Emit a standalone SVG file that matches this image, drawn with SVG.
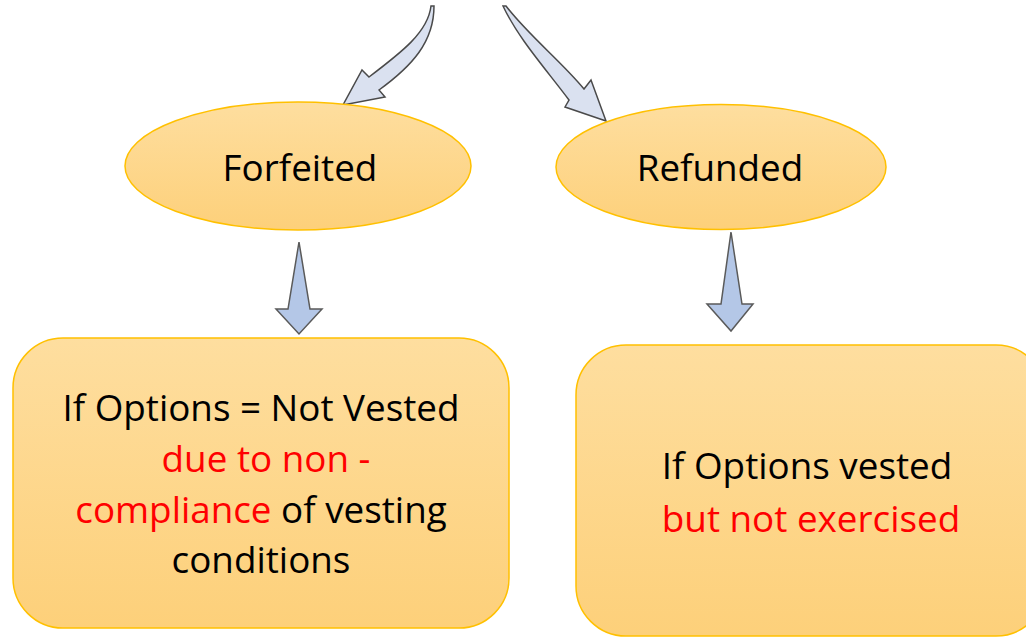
<svg xmlns="http://www.w3.org/2000/svg" width="1026" height="637" viewBox="0 0 1026 637">
<style>
.node-shape{fill:url(#gold);stroke:#FFC000;stroke-width:1.5}
.arrow-top{fill:#DAE1F0;stroke:#4A4A4A;stroke-width:1.5;stroke-linejoin:miter}
.arrow-down{fill:#B4C7E7;stroke:#5A5A5A;stroke-width:1.5;stroke-linejoin:miter}
.t{font-family:"Open Sans","Liberation Sans",sans-serif;font-size:36.8px;fill:#000;text-anchor:middle}
.red{fill:#FF0000}
</style>
<defs>
<linearGradient id="gold" x1="0" y1="0" x2="0" y2="1">
<stop offset="0" stop-color="#FEDE9F"/>
<stop offset="1" stop-color="#FDD07A"/>
</linearGradient>
</defs>
<rect width="1026" height="637" fill="#FFFFFF"/>
<g id="connectors">
<path class="arrow-top" d="M431,6 C428,32 402,52 369,77 L362,70 L343,105 L385,97 L379,90 C412,66 434,42 434,6 Z"/>
<path class="arrow-top" d="M503,6 C518,38 545,68 569,100 L565,107 L606,121 L591,80 L584,89 C562,62 528,35 506,6 Z"/>
<path class="arrow-down" d="M299,242 L310,309 L322,309 L299,334 L276,309 L288,309 Z"/>
<path class="arrow-down" d="M731,232 L742,304 L753,304 L731,331 L707,304 L721,304 Z"/>
</g>
<g id="forfeited">
<ellipse class="node-shape" cx="298" cy="166" rx="173" ry="64"/>
<text class="t" x="300" y="181">Forfeited</text>
</g>
<g id="refunded">
<ellipse class="node-shape" cx="721" cy="167" rx="165" ry="62.5"/>
<text class="t" x="720" y="181">Refunded</text>
</g>
<g id="not-vested">
<rect class="node-shape" x="13" y="338" width="496" height="290" rx="50" ry="50"/>
<text class="t" x="261" y="421">If Options = Not Vested</text>
<text class="t red" x="266" y="472">due to non -</text>
<text class="t" x="261" y="523"><tspan class="red">compliance</tspan> of vesting</text>
<text class="t" x="261" y="573">conditions</text>
</g>
<g id="vested">
<rect class="node-shape" x="576" y="345" width="470" height="291" rx="50" ry="50"/>
<text class="t" x="807" y="479">If Options vested</text>
<text class="t red" x="811" y="532">but not exercised</text>
</g>
</svg>
